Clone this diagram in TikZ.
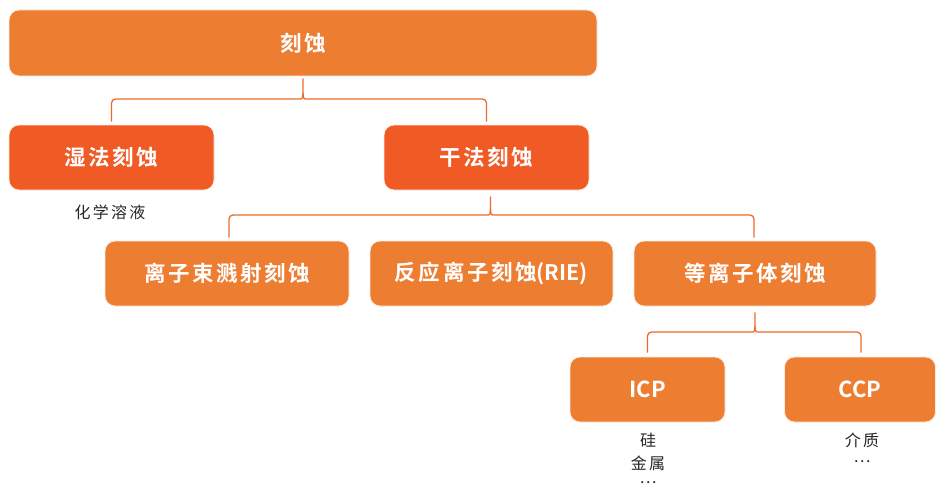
\documentclass[tikz,border=0pt]{standalone}
\usepackage{fontspec}
\setmainfont{Noto Sans CJK SC}
\newfontfamily\boxfont[LetterSpace=12,BoldFont={Noto Sans CJK SC Bold}]{Noto Sans CJK SC}
\newfontfamily\latfont[BoldFont={Noto Sans CJK SC Bold}]{Noto Sans CJK SC}
\newfontfamily\lblfont[LetterSpace=14]{Noto Sans CJK SC}
\usetikzlibrary{calc}
\definecolor{boxor}{HTML}{ED7D31}
\definecolor{boxred}{HTML}{F05A24}
\definecolor{lineor}{HTML}{EE6A2C}
\definecolor{txtgray}{HTML}{262626}
\tikzset{
  box/.style={draw=white!85!boxor, line width=0.8pt, fill=boxor, rounded corners=10pt, text=white, font=\boxfont\bfseries\fontsize{21.5}{24}\selectfont, inner sep=0pt},
  boxr/.style={box, fill=boxred},
  latbox/.style={box, font=\latfont\bfseries\fontsize{22}{24}\selectfont},
  lbl/.style={text=txtgray, font=\lblfont\fontsize{16}{23}\selectfont, align=center, inner sep=0pt},
  conn/.style={draw=lineor, line width=1.3pt},
}
\begin{document}
\begin{tikzpicture}[x=1pt,y=-1pt]
\useasboundingbox (0,0) rectangle (936,492);
% nodes
\node[box, minimum width=588pt, minimum height=66pt] (top) at (303,43) {刻蚀};
\node[boxr, minimum width=205pt, minimum height=65pt] (wet) at (111.5,157.5) {湿法刻蚀};
\node[boxr, minimum width=205pt, minimum height=65pt] (dry) at (486.5,157.5) {干法刻蚀};
\node[lbl] (wetl) at (110,212) {化学溶液};
\node[box, minimum width=244pt, minimum height=65pt] (ibe) at (227,273.5) {离子束溅射刻蚀};
\node[box, minimum width=243pt, minimum height=65pt] (rie) at (491.5,273.5) {反应离子刻蚀{\latfont(RIE)}};
\node[box, minimum width=242pt, minimum height=65pt] (pe) at (755,273.5) {等离子体刻蚀};
\node[latbox, minimum width=155pt, minimum height=65pt] (icp) at (647.5,389.5) {ICP};
\node[latbox, minimum width=151pt, minimum height=65pt] (ccp) at (860,389.5) {CCP};
\node[lbl] (icpl1) at (648,440) {硅};
\node[lbl] (icpl2) at (648,463) {金属};
\node[lbl] (icpl3) at (648,483) {…};
\node[lbl] (ccpl1) at (862,440) {介质};
\node[lbl] (ccpl2) at (862,462) {…};
% bracket helper coordinates
\coordinate (h1) at (0,99);
\coordinate (h2) at (0,215);
\coordinate (h3) at (0,332);
% bracket 1
\draw[conn] ($(wet.north)+(0,-3)$) [rounded corners=4pt] -- (wet.north |- h1) -- ($(top.south |- h1)+(-6,0)$) [sharp corners]
  .. controls ($(top.south |- h1)+(-1,0)$) and ($(top.south |- h1)+(0,-1)$) .. ($(top.south |- h1)+(0,-6)$) -- ($(top.south)+(0,2)$);
\draw[conn] ($(dry.north)+(0,-3)$) [rounded corners=4pt] -- (dry.north |- h1) -- ($(top.south |- h1)+(6,0)$) [sharp corners]
  .. controls ($(top.south |- h1)+(1,0)$) and ($(top.south |- h1)+(0,-1)$) .. ($(top.south |- h1)+(0,-6)$);
% bracket 2
\coordinate (s2) at ($(dry.south)+(4,0)$);
\draw[conn] ($(ibe.north)+(2,-3)$) [rounded corners=4pt] -- ($(ibe.north |- h2)+(2,0)$) -- ($(s2 |- h2)+(-6,0)$) [sharp corners]
  .. controls ($(s2 |- h2)+(-1,0)$) and ($(s2 |- h2)+(0,-1)$) .. ($(s2 |- h2)+(0,-6)$) -- ($(s2)+(0,6)$);
\draw[conn] ($(pe.north)+(-1,-3)$) [rounded corners=4pt] -- ($(pe.north |- h2)+(-1,0)$) -- ($(s2 |- h2)+(6,0)$) [sharp corners]
  .. controls ($(s2 |- h2)+(1,0)$) and ($(s2 |- h2)+(0,-1)$) .. ($(s2 |- h2)+(0,-6)$);
% bracket 3
\draw[conn] ($(icp.north)+(0,-4)$) [rounded corners=4pt] -- (icp.north |- h3) -- ($(pe.south |- h3)+(-6,0)$) [sharp corners]
  .. controls ($(pe.south |- h3)+(-1,0)$) and ($(pe.south |- h3)+(0,-1)$) .. ($(pe.south |- h3)+(0,-6)$) -- ($(pe.south)+(0,6)$);
\draw[conn] ($(ccp.north)+(1,-4)$) [rounded corners=4pt] -- ($(ccp.north |- h3)+(1,0)$) -- ($(pe.south |- h3)+(6,0)$) [sharp corners]
  .. controls ($(pe.south |- h3)+(1,0)$) and ($(pe.south |- h3)+(0,-1)$) .. ($(pe.south |- h3)+(0,-6)$);
\end{tikzpicture}
\end{document}
